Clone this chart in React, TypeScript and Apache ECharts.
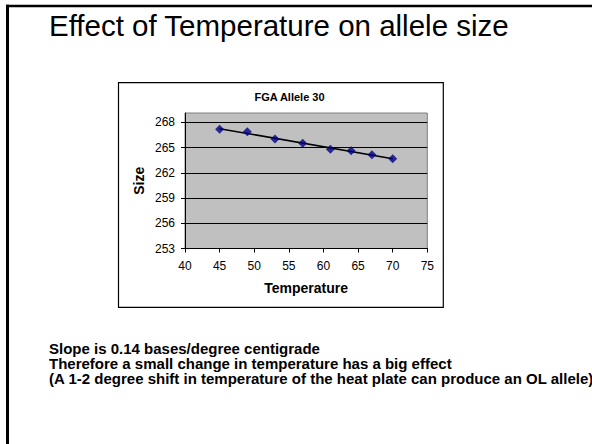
import React, { useEffect, useRef } from "react";
import * as echarts from "echarts";

const temperatures = [45, 49, 53, 57, 61, 64, 67, 70];
const sizes = [267.17, 266.88, 266.01, 265.5, 264.79, 264.62, 264.15, 263.67];
const xTicks = { min: 40, max: 75, interval: 5 };
const yTicks = { min: 253, max: 269.1, interval: 3 };
const slideTitle = "Effect of Temperature on allele size";
const chartTitle = "FGA Allele 30";
const notes = [
  "Slope is 0.14 bases/degree centigrade",
  "Therefore a small change in temperature has a big effect",
  "(A 1-2 degree shift in temperature of the heat plate can produce an OL allele)",
];

function trendline(xs: number[], ys: number[]): number[][] {
  const n = xs.length;
  const mx = xs.reduce((a, b) => a + b, 0) / n;
  const my = ys.reduce((a, b) => a + b, 0) / n;
  let sxy = 0;
  let sxx = 0;
  for (let i = 0; i < n; i++) {
    sxy += (xs[i] - mx) * (ys[i] - my);
    sxx += (xs[i] - mx) * (xs[i] - mx);
  }
  const slope = sxy / sxx;
  const b = my - slope * mx;
  const x0 = Math.min(...xs);
  const x1 = Math.max(...xs);
  return [
    [x0, slope * x0 + b],
    [x1, slope * x1 + b],
  ];
}

const FONT = "'Liberation Sans', Arial, Helvetica, sans-serif";

export default function App() {
  const ref = useRef<HTMLDivElement>(null);
  useEffect(() => {
    if (!ref.current) return;
    const chart = echarts.init(ref.current, null, { renderer: "svg" });
    const points = temperatures.map((t, i) => [t, sizes[i]]);
    chart.setOption({
      animation: false,
      backgroundColor: "#ffffff",
      textStyle: { fontFamily: FONT },
      grid: {
        left: 185,
        right: 164.7,
        top: 113,
        bottom: 195.5,
        containLabel: false,
        show: true,
        backgroundColor: "#C0C0C0",
        borderColor: "#808080",
        borderWidth: 1,
      },
      xAxis: {
        type: "value",
        min: xTicks.min,
        max: xTicks.max,
        interval: xTicks.interval,
        name: "Temperature",
        nameLocation: "middle",
        nameGap: 32,
        nameTextStyle: { fontFamily: FONT, fontSize: 14, fontWeight: "bold", color: "#000" },
        axisLine: { show: true, onZero: false, lineStyle: { color: "#000", width: 1 } },
        axisTick: { show: true, inside: false, length: 4, lineStyle: { color: "#000" } },
        splitLine: { show: false },
        axisLabel: { fontFamily: FONT, fontSize: 12, color: "#000", margin: 11 },
      },
      yAxis: {
        type: "value",
        min: yTicks.min,
        max: yTicks.max,
        interval: yTicks.interval,
        name: "Size",
        nameLocation: "middle",
        nameGap: 39,
        nameTextStyle: { fontFamily: FONT, fontSize: 14, fontWeight: "bold", color: "#000" },
        axisLine: { show: true, onZero: false, lineStyle: { color: "#000", width: 1 } },
        axisTick: { show: true, inside: false, length: 4, lineStyle: { color: "#000" } },
        splitLine: { show: true, showMaxLine: false, lineStyle: { color: "#000", width: 1 } },
        axisLabel: {
          fontFamily: FONT,
          fontSize: 12,
          color: "#000",
          margin: 10,
          showMaxLabel: false,
        },
      },
      series: [
        {
          type: "line",
          data: trendline(temperatures, sizes),
          symbol: "none",
          lineStyle: { color: "#000", width: 1.5 },
          z: 2,
          silent: true,
        },
        {
          type: "scatter",
          data: points,
          symbol: "diamond",
          symbolSize: 9,
          itemStyle: { color: "#000080" },
          z: 3,
        },
      ],
      graphic: [
        {
          type: "line",
          shape: { x1: 6, y1: 6, x2: 592, y2: 6 },
          style: { stroke: "#000", lineWidth: 2.6 },
        },
        {
          type: "line",
          shape: { x1: 7.5, y1: 4.7, x2: 7.5, y2: 444 },
          style: { stroke: "#000", lineWidth: 3 },
        },
        {
          type: "rect",
          shape: { x: 118.5, y: 82.7, width: 324.8, height: 224.6 },
          style: { fill: "none", stroke: "#000", lineWidth: 1.2 },
          z: -1,
        },
        {
          type: "text",
          x: 49,
          y: 25,
          style: {
            text: slideTitle,
            font: `29.5px ${FONT}`,
            fill: "#000",
            textAlign: "left",
            textVerticalAlign: "middle",
          },
        },
        {
          type: "text",
          x: 289.5,
          y: 97,
          style: {
            text: chartTitle,
            font: `bold 11px ${FONT}`,
            fill: "#000",
            textAlign: "center",
            textVerticalAlign: "middle",
          },
        },
        {
          type: "text",
          x: 49,
          y: 340.9,
          style: {
            text: notes.join("\n"),
            font: `bold 15px ${FONT}`,
            lineHeight: 15.2,
            fill: "#000",
            textAlign: "left",
            textVerticalAlign: "top",
          },
        },
      ],
    });
    return () => chart.dispose();
  }, []);
  return (
    <div
      ref={ref}
      style={{ position: "fixed", left: 0, top: 0, width: 592, height: 444 }}
    />
  );
}
